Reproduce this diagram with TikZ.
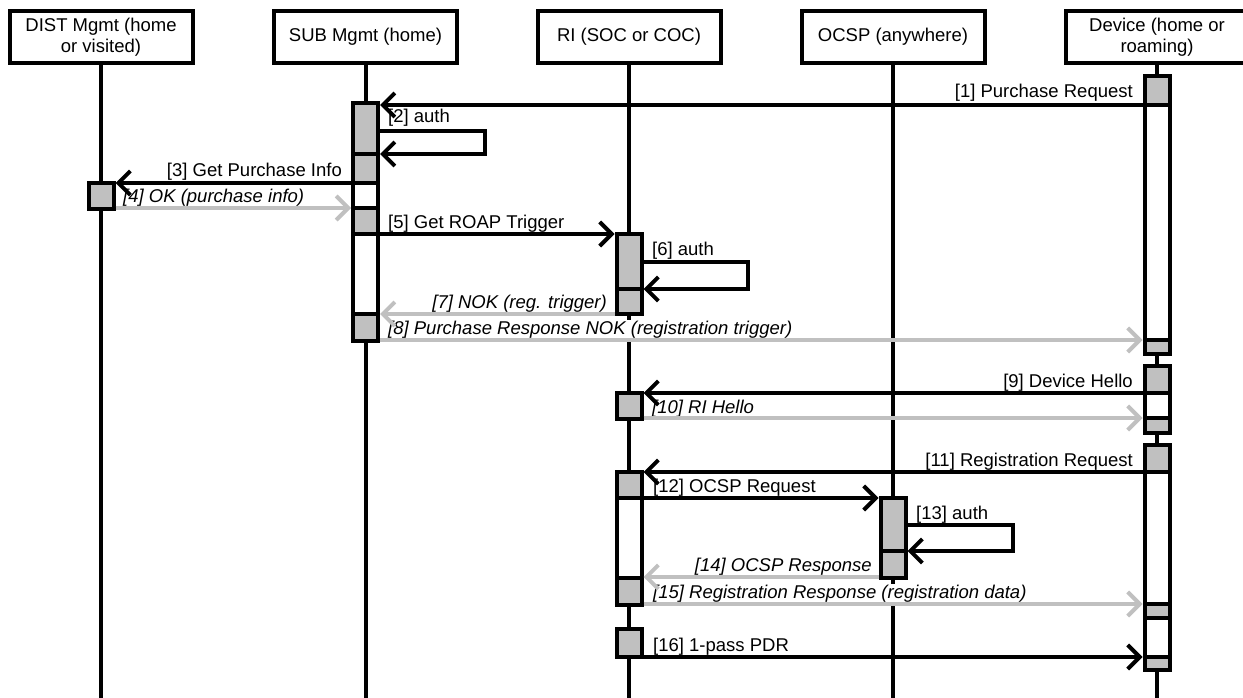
\documentclass[tikz,border=0pt]{standalone}
\usepackage{fontspec}
\setmainfont{Liberation Sans}
\usetikzlibrary{arrows.meta}
\definecolor{actgrey}{RGB}{192,192,192}
\newcommand\actbox[5]{\node[actbox, fill=#5, minimum height={#4-#3}] (#1) at (#2,{(#3+#4)/2}) {};}
\begin{document}
\fontsize{18.5}{20.5}\selectfont
\begin{tikzpicture}[x=1pt,y=-1pt,
  head/.style={draw, line width=4pt, minimum width=183pt, minimum height=52pt, inner sep=0pt, align=center},
  life/.style={line width=4pt},
  actbox/.style={draw, line width=4pt, minimum width=25pt, inner sep=0pt},
  msg/.style={line width=4pt, -{Straight Barb[length=12pt,width=24pt]}},
  rmsg/.style={msg, draw=actgrey},
  lbl/.style={fill=white, inner sep=1pt},
  lblL/.style={lbl, anchor=base west},
  lblR/.style={lbl, anchor=base east},
  ret/.style={font=\itshape}]
\useasboundingbox (0,0) rectangle (1243,698);
\clip (0,0) rectangle (1243,698);

% headers
\node[head] (hDist) at (101,37) {DIST Mgmt (home\\or visited)};
\node[head] (hSub)  at (365.5,37) {\raisebox{-3pt}{SUB Mgmt (home)}};
\node[head] (hRi)   at (629,37) {\raisebox{-3pt}{RI (SOC or COC)}};
\node[head] (hOcsp) at (893,37) {\raisebox{-3pt}{OCSP (anywhere)}};
\node[head] (hDev)  at (1157,37) {Device (home or\\roaming)};

% lifeline ends
\coordinate (eDist) at (101,700);
\coordinate (eSub)  at (365.5,700);
\coordinate (eRi)   at (629,700);
\coordinate (eOcsp) at (893,700);
\coordinate (eDev)  at (1157,700);
\draw[life] (hDist.south) -- (eDist);
\draw[life] (hSub.south) -- (eSub);
\draw[life] (hRi.south) -- (eRi);
\draw[life] (hOcsp.south) -- (eOcsp);
\draw[life] (hDev.south) -- (eDev);

% activation boxes
\actbox{subA}{365.5}{103}{341}{white}
\actbox{subA1}{365.5}{103}{154}{actgrey}
\actbox{subA2}{365.5}{154}{183}{actgrey}
\actbox{subA3}{365.5}{208}{234}{actgrey}
\actbox{subA4}{365.5}{314}{341}{actgrey}

\actbox{distA}{101}{183}{208.5}{actgrey}

\actbox{riA1}{629}{234}{289}{actgrey}
\actbox{riA2}{629}{289}{314}{actgrey}
\actbox{riB}{629}{393}{419}{actgrey}
\actbox{riC}{629}{472}{605}{white}
\actbox{riC1}{629}{472}{498}{actgrey}
\actbox{riC2}{629}{578}{605}{actgrey}
\actbox{riD}{629}{629}{657}{actgrey}

\actbox{ocA1}{893}{498}{551}{actgrey}
\actbox{ocA2}{893}{551}{578}{actgrey}

\actbox{devA}{1157}{76}{354}{white}
\actbox{devA1}{1157}{76}{105}{actgrey}
\actbox{devA2}{1157}{340}{354}{actgrey}
\actbox{devB}{1157}{366}{433}{white}
\actbox{devB1}{1157}{366}{393}{actgrey}
\actbox{devB2}{1157}{418}{433}{actgrey}
\actbox{devC}{1157}{445}{670}{white}
\actbox{devC1}{1157}{445}{472}{actgrey}
\actbox{devC2}{1157}{604}{618}{actgrey}
\actbox{devC3}{1157}{657}{670}{actgrey}

% labels
\node[lblR] (t1) at (1134,98) {[1] Purchase Request};
\node[lblL] (t2) at (387,123) {[2] auth};
\node[lblR] (t3) at (343,177) {[3] Get Purchase Info};
\node[lblL, ret] (t4) at (122,202) {[4] OK (purchase info)};
\node[lblL] (t5) at (387,228) {[5] Get ROAP Trigger};
\node[lblL] (t6) at (651,255) {[6] auth};
\node[lblR, ret] (t7) at (608,308) {[7] NOK (reg. trigger)};
\node[lblL, ret] (t8) at (387,334) {[8] Purchase Response NOK (registration trigger)};
\node[lblR] (t9) at (1134,387) {[9] Device Hello};
\node[lblL, ret] (t10) at (651,413) {[10] RI Hello};
\node[lblR] (t11) at (1134,466) {[11] Registration Request};
\node[lblL] (t12) at (652,492) {[12] OCSP Request};
\node[lblL] (t13) at (915,519) {[13] auth};
\node[lblR, ret] (t14) at (873,571) {[14] OCSP Response};
\node[lblL, ret] (t15) at (652,598) {[15] Registration Response (registration data)};
\node[lblL] (t16) at (652,651) {[16] 1-pass PDR};

% message levels
\coordinate (m1) at (0,105);
\coordinate (m2a) at (0,131);
\coordinate (l2) at (485,154);
\coordinate (m2b) at (0,154);
\coordinate (m3) at (0,183);
\coordinate (m4) at (0,208);
\coordinate (m5) at (0,234);
\coordinate (m6a) at (0,262);
\coordinate (l6) at (748,289);
\coordinate (m6b) at (0,289);
\coordinate (m7) at (0,314);
\coordinate (m8) at (0,340);
\coordinate (m9) at (0,393);
\coordinate (m10) at (0,418);
\coordinate (m11) at (0,472);
\coordinate (m12) at (0,498);
\coordinate (m13a) at (0,525);
\coordinate (l13) at (1013,551);
\coordinate (m13b) at (0,551);
\coordinate (m14) at (0,577);
\coordinate (m15) at (0,604);
\coordinate (m16) at (0,657);

% messages
\draw[msg] (devA.west |- m1) -- (subA.east |- m1);
\draw[msg] (subA.east |- m2a) -| (l2) -- (subA.east |- m2b);
\draw[msg] (subA.west |- m3) -- (distA.east |- m3);
\draw[rmsg] (distA.east |- m4) -- (subA.west |- m4);
\draw[msg] (subA.east |- m5) -- (riA1.west |- m5);
\draw[msg] (riA1.east |- m6a) -| (l6) -- (riA1.east |- m6b);
\draw[rmsg] (riA2.west |- m7) -- (subA.east |- m7);
\draw[rmsg] (subA.east |- m8) -- (devA.west |- m8);
\draw[msg] (devB.west |- m9) -- (riB.east |- m9);
\draw[rmsg] (riB.east |- m10) -- (devB.west |- m10);
\draw[msg] (devC.west |- m11) -- (riC.east |- m11);
\draw[msg] (riC.east |- m12) -- (ocA1.west |- m12);
\draw[msg] (ocA1.east |- m13a) -| (l13) -- (ocA1.east |- m13b);
\draw[rmsg] (ocA2.west |- m14) -- (riC.east |- m14);
\draw[rmsg] (riC.east |- m15) -- (devC.west |- m15);
\draw[msg] (riD.east |- m16) -- (devC.west |- m16);
\end{tikzpicture}
\end{document}
